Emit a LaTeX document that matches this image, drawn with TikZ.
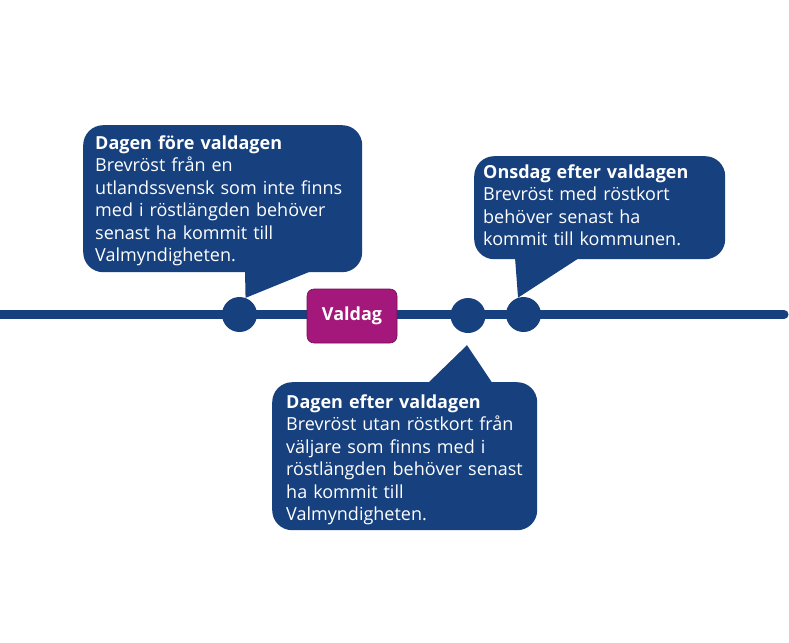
\documentclass[tikz,border=0pt]{standalone}
\usepackage{fontspec}
\setmainfont{Open Sans}
\usetikzlibrary{calc}
\definecolor{vblue}{RGB}{23,64,126}
\definecolor{vmag}{RGB}{163,24,122}
\definecolor{vmagdark}{RGB}{120,14,88}
\tikzset{
  bubble/.style={fill=vblue, rounded corners=20pt, inner sep=0pt, anchor=north west},
  dot/.style={circle, fill=vblue, minimum size=35pt, inner sep=0pt},
  btext/.style={text=white, anchor=base west, inner sep=0pt, text width=300pt, align=left,
    font=\fontsize{18pt}{22.5pt}\selectfont},
  tailfill/.style={fill=vblue},
}
\begin{document}
\begin{tikzpicture}[x=1pt,y=-1pt]
\useasboundingbox (0,0) rectangle (789,642);
\fill[white] (0,0) rectangle (789,642);
% timeline
\coordinate (lstart) at (-10,314.5);
\coordinate (lend) at (784,314.5);
\draw[vblue, line width=9pt, line cap=round] (lstart) -- (lend);
% circles
\node[dot] (c1) at (239.5,314.5) {};
\node[dot] (c2) at (468,315.5) {};
\node[dot] (c3) at (523.5,314.5) {};
% Valdag
\node[fill=vmag, draw=vmagdark, line width=0.6pt, rounded corners=7pt, minimum width=90pt, minimum height=54pt, inner sep=0pt, text=white, font=\fontsize{18pt}{22pt}\selectfont\bfseries] (vd) at (352,316) {Valdag};
% bubble 1
\node[bubble, minimum width=279pt, minimum height=147pt] (b1) at (83,125) {};
\fill[tailfill] ($(b1.south west)+(162,-2)$) -- (c1.70) -- ($(b1.south west)+(230,-2)$) -- cycle;
\node[btext] (t1) at (95,149) {\textbf{Dagen före valdagen}\\Brevröst från en\\utlandssvensk som inte finns\\med i röstlängden behöver\\senast ha kommit till\\Valmyndigheten.};
% bubble 2
\node[bubble, minimum width=251pt, minimum height=103pt] (b2) at (474,156) {};
\fill[tailfill] ($(b2.south west)+(41,-2)$) -- (c3.108) -- ($(b2.south west)+(106,-2)$) -- cycle;
\node[btext] (t2) at (483,178) {\textbf{Onsdag efter valdagen}\\Brevröst med röstkort\\behöver senast ha\\kommit till kommunen.};
% bubble 3
\node[bubble, minimum width=265pt, minimum height=148pt] (b3) at (272,382) {};
\coordinate (tip3) at ($(c2.south)+(-1,12)$);
\fill[tailfill] ($(b3.north west)+(155,2)$) -- (tip3) -- ($(b3.north west)+(221,2)$) -- cycle;
\node[btext] (t3) at (286,408) {\textbf{Dagen efter valdagen}\\Brevröst utan röstkort från\\väljare som finns med i\\röstlängden behöver senast\\ha kommit till\\Valmyndigheten.};
\end{tikzpicture}
\end{document}
